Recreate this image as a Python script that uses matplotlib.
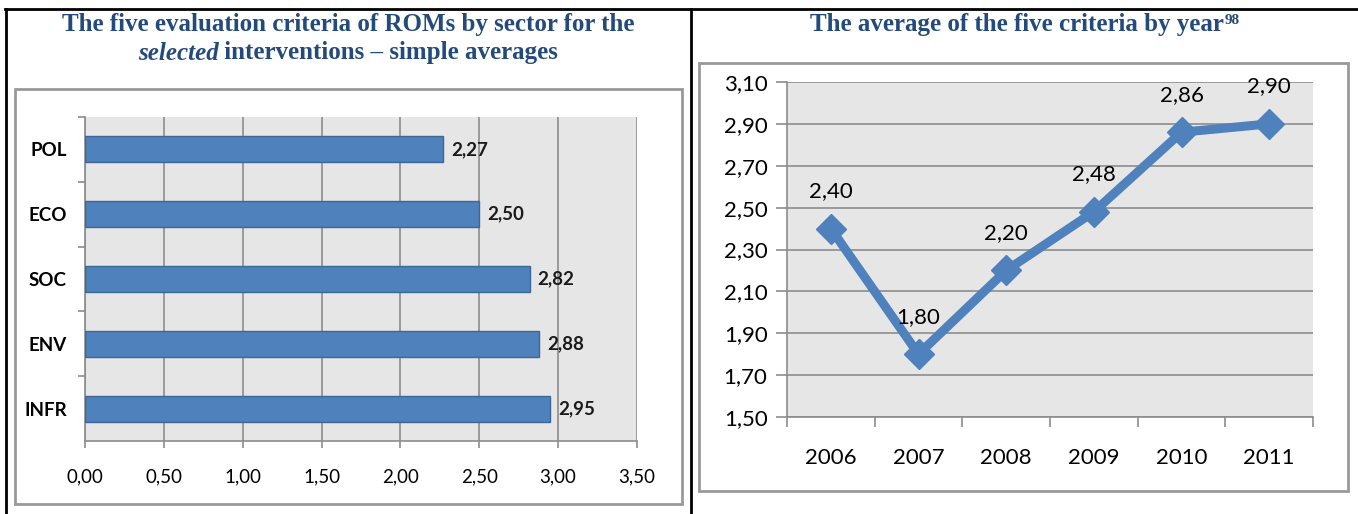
import matplotlib
matplotlib.use("Agg")
import matplotlib.pyplot as plt
from matplotlib.patches import Rectangle
from matplotlib.lines import Line2D
from matplotlib.ticker import FuncFormatter

# data
sectors = ["POL", "ECO", "SOC", "ENV", "INFR"]
sector_scores = [2.27, 2.50, 2.82, 2.88, 2.95]
bar_ticks = [0, 0.5, 1.0, 1.5, 2.0, 2.5, 3.0, 3.5]

years = ["2006", "2007", "2008", "2009", "2010", "2011"]
year_avg = [2.40, 1.80, 2.20, 2.48, 2.86, 2.90]
line_ticks = [1.5, 1.7, 1.9, 2.1, 2.3, 2.5, 2.7, 2.9, 3.1]

W, H = 1358, 514
BLUE = "#4f81bd"
TITLE = "#244a7c"
GRID = "#8c8c8c"
BG = "#e6e6e6"
SANS = "Lato"
SERIF = "Liberation Serif"


def rect(x0, y0, x1, y1):
    # pixel box (top-left origin) -> figure fraction
    return [x0 / W, 1 - y1 / H, (x1 - x0) / W, (y1 - y0) / H]


def comma(v, pos=None):
    return ("%.2f" % v).replace(".", ",")


fig = plt.figure(figsize=(W / 100, H / 100), dpi=100)

# table lines
for xs, ys in [((5, W), (9, 9)), ((6, 6), (9, H)), ((691, 691), (9, H))]:
    fig.add_artist(Line2D([x / W for x in xs], [1 - y / H for y in ys],
                          color="black", lw=2, transform=fig.transFigure))

# chart frames
for x0, y0, x1, y1 in [(15, 89, 682, 504), (699, 63, 1348, 491)]:
    r = rect(x0, y0, x1, y1)
    fig.add_artist(Rectangle((r[0], r[1]), r[2], r[3], transform=fig.transFigure,
                             fill=False, ec="#999999", lw=2))

# titles
TS = 18
fig.text(348 / W, 1 - 25 / H, "The five evaluation criteria of ROMs by sector for the",
         ha="center", va="center", family=SERIF, weight="bold", fontsize=TS, color=TITLE)
fig.canvas.draw()
renderer = fig.canvas.get_renderer()
t_a = fig.text(0, 1 - 53 / H, "selected", ha="left", va="center", family=SERIF,
               weight="bold", style="italic", fontsize=TS, color=TITLE)
t_b = fig.text(0, 1 - 53 / H, " interventions \u2013 simple averages", ha="left", va="center",
               family=SERIF, weight="bold", fontsize=TS, color=TITLE)
wa = t_a.get_window_extent(renderer).width
wb = t_b.get_window_extent(renderer).width
start = 348 - (wa + wb) / 2
t_a.set_x(start / W)
t_b.set_x((start + wa) / W)

t_r = fig.text(0, 1 - 25 / H, "The average of the five criteria by year", ha="left", va="center",
               family=SERIF, weight="bold", fontsize=TS, color=TITLE)
t_s = fig.text(0, 1 - 20 / H, "98", ha="left", va="center",
               family=SERIF, weight="bold", fontsize=11, color=TITLE)
wr = t_r.get_window_extent(renderer).width
ws = t_s.get_window_extent(renderer).width
start = 1025 - (wr + ws) / 2
t_r.set_x(start / W)
t_s.set_x((start + wr) / W)

# left: horizontal bars
ax = fig.add_axes(rect(85, 117, 637, 441))
ax.set_facecolor(BG)
pos = list(range(len(sectors)))
ax.barh(pos, sector_scores, height=0.4, color=BLUE, edgecolor="#3c6798", lw=1, zorder=3)
for p, v in zip(pos, sector_scores):
    ax.text(v + 0.05, p, comma(v), va="center", ha="left", family=SANS,
            weight="bold", fontsize=13.5, color="#1a1a1a")
ax.set_ylim(4.5, -0.5)
ax.set_xlim(0, 3.5)
ax.set_xticks(bar_ticks)
ax.xaxis.set_major_formatter(FuncFormatter(comma))
ax.set_yticks(pos)
ax.set_yticklabels(sectors, family=SANS, weight="bold", fontsize=13.5)
ax.set_yticks([p + 0.5 for p in pos[:-1]] + [-0.5], minor=True)
ax.tick_params(axis="y", which="major", length=0, pad=13)
ax.tick_params(axis="y", which="minor", length=5, color=GRID, width=1.2)
ax.tick_params(axis="x", length=5, color=GRID, width=1.2, pad=15, labelsize=13.5)
for lbl in ax.get_xticklabels():
    lbl.set_family(SANS)
ax.grid(axis="x", color=GRID, lw=1.2, zorder=0)
ax.set_axisbelow(True)
for s in ["top", "right"]:
    ax.spines[s].set_visible(False)
for s in ["left", "bottom"]:
    ax.spines[s].set_color(GRID)
    ax.spines[s].set_linewidth(1.2)

# right: line by year
ax2 = fig.add_axes(rect(787, 82, 1313, 417))
ax2.set_facecolor(BG)
xs = list(range(len(years)))
ax2.plot(xs, year_avg, color=BLUE, lw=6.5, marker="D", ms=15, zorder=3, solid_joinstyle="miter")
for x, v in zip(xs, year_avg):
    ax2.annotate(comma(v), (x, v), xytext=(0, 27), textcoords="offset points",
                 ha="center", va="center", family=SANS, fontsize=16, color="black")
ax2.set_xlim(-0.5, 5.5)
ax2.set_ylim(1.5, 3.1)
ax2.set_yticks(line_ticks)
ax2.yaxis.set_major_formatter(FuncFormatter(comma))
ax2.set_xticks(xs)
ax2.set_xticklabels(years)
ax2.set_xticks([x - 0.5 for x in xs] + [5.5], minor=True)
ax2.tick_params(axis="x", which="major", length=0, pad=22, labelsize=16)
ax2.tick_params(axis="x", which="minor", length=7, color=GRID, width=1.2)
ax2.tick_params(axis="y", length=8, color=GRID, width=1.2, pad=6, labelsize=16)
for lbl in ax2.get_xticklabels() + ax2.get_yticklabels():
    lbl.set_family(SANS)
ax2.grid(axis="y", color=GRID, lw=1.2, zorder=0)
ax2.set_axisbelow(True)
for s in ["top", "right"]:
    ax2.spines[s].set_visible(False)
for s in ["left", "bottom"]:
    ax2.spines[s].set_color(GRID)
    ax2.spines[s].set_linewidth(1.2)

fig.savefig("out.png", dpi=100)
